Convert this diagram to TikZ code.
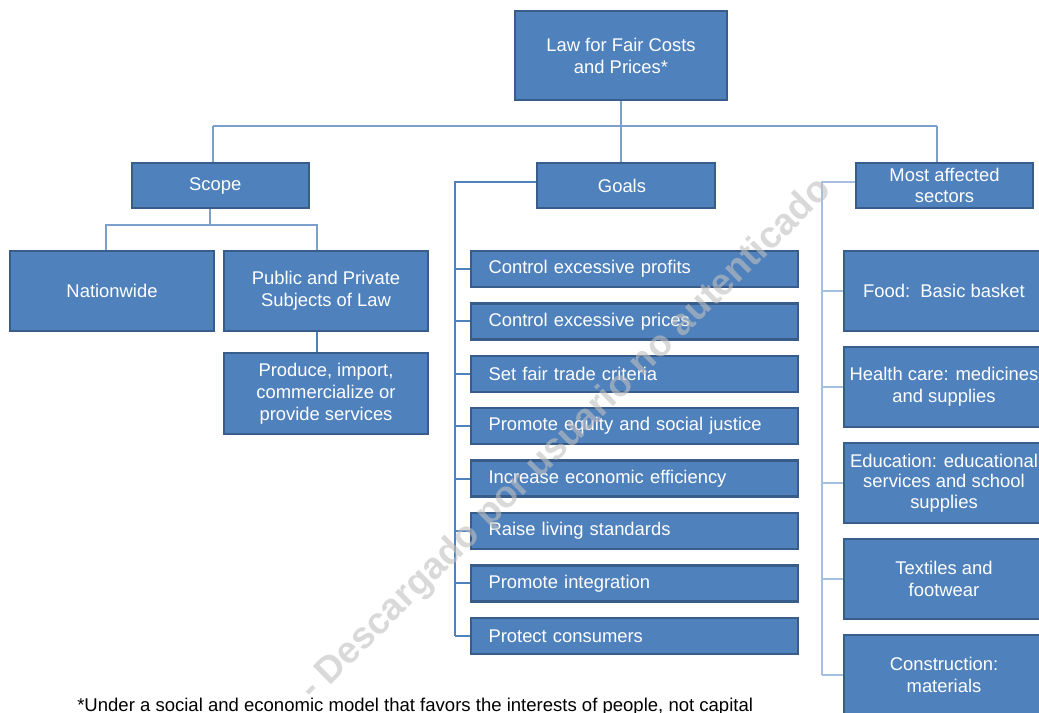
\documentclass[tikz,border=0pt]{standalone}
\usepackage{fontspec}
\setmainfont{Liberation Sans}
\usepackage{tikz}
\usetikzlibrary{positioning}
\definecolor{boxfill}{HTML}{4F81BD}
\definecolor{boxline}{HTML}{385D8A}
\definecolor{linkblue}{HTML}{7BA0CD}
\definecolor{paleblue}{HTML}{A7BFDE}

\begin{document}
\begin{tikzpicture}[x=0.75pt, y=-0.75pt, node distance=10.5pt,
    box/.style={draw=boxline, line width=1.8pt, fill=boxfill, text=white, align=center, inner sep=2pt, font=\fontsize{13.8}{16.5}\selectfont},
    goal/.style={box, minimum width=245.25pt, minimum height=27pt, text width=219pt, align=left, inner xsep=13pt},
    sector/.style={box, minimum width=150pt, minimum height=60pt},
    link/.style={draw=linkblue, line width=1.1pt},
    goalbus/.style={draw=boxfill, line width=1.6pt},
    secbus/.style={draw=paleblue, line width=1pt}]
    \clip (0,0) rectangle (1039,713);
    \node[box, minimum width=159pt, minimum height=66.75pt] (law) at (621,55.5) {Law for Fair Costs\\and Prices*};
    \node[box, minimum width=132.75pt, minimum height=33.75pt] (scope) at (220.5,185.5) {\hspace*{-8pt}Scope};
    \node[box, minimum width=133.5pt, minimum height=33.75pt] (goals) at (626,185.5) {\hspace*{-6pt}Goals};
    \node[box, minimum width=132.75pt, minimum height=33.75pt, font=\fontsize{13.8}{15.5}\selectfont] (sectors) at (944.5,185.5) {Most affected\\sectors};
    \node[box, minimum width=153pt, minimum height=60pt] (nation) at (112,291) {Nationwide};
    \node[box, minimum width=153pt, minimum height=60pt] (subjects) at (326,291) {Public and Private\\Subjects of Law};
    \node[box, minimum width=153pt, minimum height=60.75pt] (produce) at (326,393.5) {Produce, import,\\commercialize or\\provide services};
    \node[goal] (g1) at (634.5,269) {Control excessive profits};
    \node[goal, below=of g1] (g2) {Control excessive prices};
    \node[goal, below=of g2] (g3) {Set fair trade criteria};
    \node[goal, below=of g3] (g4) {Promote equity and social justice};
    \node[goal, below=of g4] (g5) {Increase economic efficiency};
    \node[goal, below=of g5] (g6) {Raise living standards};
    \node[goal, below=of g6] (g7) {Promote integration};
    \node[goal, below=of g7] (g8) {Protect consumers};
    \node[sector] (s1) at (944,291) {Food:~~Basic basket};
    \node[sector, below=10.2pt of s1] (s2) {Health care: medicines\\and supplies};
    \node[sector, below=10.2pt of s2, font=\fontsize{13.8}{15.5}\selectfont] (s3) {Education: educational\\services and school\\supplies};
    \node[sector, below=10.2pt of s3] (s4) {Textiles and\\footwear};
    \node[sector, below=10.2pt of s4] (s5) {Construction:\\materials};
    \coordinate (busL) at (213,126);
    \coordinate (busR) at (937,126);
    \draw[link] (law) -- (law |- busL);
    \draw[link] (busL) -- (busR);
    \draw[link] (busL) -- (busL |- scope.north);
    \draw[link] (law |- busL) -- (law |- goals.north);
    \draw[link] (busR) -- (busR |- sectors.north);
    \coordinate (scopebus) at (210,225);
    \coordinate (sL) at (106,225);
    \coordinate (sR) at (317,225);
    \draw[link] (scopebus |- scope.south) -- (scopebus);
    \draw[link] (sL |- nation.north) -- (sL) -- (sR) -- (sR |- subjects.north);
    \draw[goalbus] (sR |- subjects.south) -- (sR |- produce.north);
    \coordinate (gbus) at (455,182);
    \draw[goalbus] (goals.west |- gbus) -- (gbus) -- (gbus |- g8);
    \foreach \i in {1,...,8}
        \draw[goalbus] (gbus |- g\i) -- (g\i.west);
    \coordinate (sbus) at (822,182);
    \draw[secbus] (sectors.west |- sbus) -- (sbus) -- (sbus |- s5);
    \foreach \i in {1,...,5}
        \draw[secbus] (sbus |- s\i) -- (s\i.west);
    \node[anchor=base west, inner sep=0pt, font=\fontsize{13.9}{15}\selectfont] (note) at (77,711) {*Under a social and economic model that favors the interests of people, not capital};
    \node[rotate=44.5, text=black!25, text opacity=0.6, font=\fontsize{28}{28}\selectfont\bfseries] (mark) at (566,440) {- Descargado por usuario no autenticado};
\end{tikzpicture}
\end{document}
